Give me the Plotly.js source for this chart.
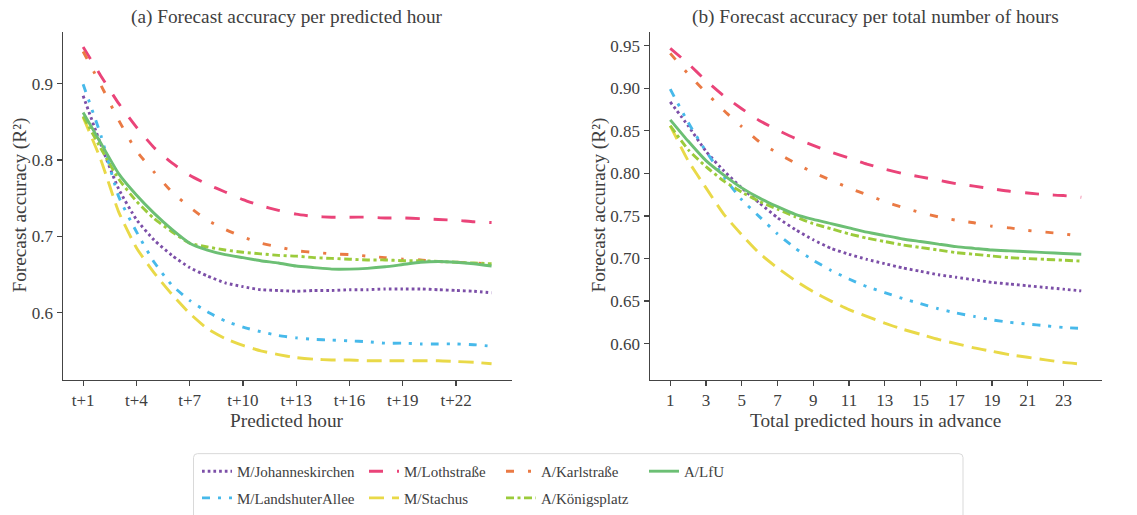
<!DOCTYPE html>
<html><head><meta charset="utf-8">
<script src="https://cdn.plot.ly/plotly-3.0.1.min.js"></script>
<style>html,body{margin:0;padding:0;background:#fff}#chart{width:1137px;height:515px}</style>
</head><body><div id="chart"></div>
<script>
// ---------- data ----------
const hours = [1,2,3,4,5,6,7,8,9,10,11,12,13,14,15,16,17,18,19,20,21,22,23,24];
const stationNames = ['M/Johanneskirchen','M/LandshuterAllee','M/Lothstraße','M/Stachus','A/Karlstraße','A/Königsplatz','A/LfU'];

// (a) accuracy per predicted hour
const phJohanneskirchen = [0.884,0.820,0.762,0.722,0.695,0.675,0.659,0.648,0.639,0.634,0.630,0.629,0.628,0.629,0.629,0.630,0.630,0.631,0.631,0.631,0.630,0.629,0.628,0.626];
const phLandshuterAllee = [0.899,0.832,0.752,0.706,0.666,0.636,0.616,0.601,0.589,0.581,0.575,0.570,0.567,0.565,0.564,0.563,0.562,0.560,0.560,0.559,0.559,0.559,0.558,0.556];
const phLothstrasse     = [0.948,0.910,0.874,0.843,0.816,0.796,0.780,0.768,0.758,0.748,0.740,0.734,0.729,0.726,0.725,0.725,0.725,0.724,0.724,0.723,0.722,0.721,0.719,0.718];
const phStachus         = [0.856,0.800,0.732,0.685,0.652,0.624,0.599,0.579,0.566,0.557,0.550,0.545,0.541,0.539,0.538,0.538,0.537,0.537,0.537,0.537,0.537,0.536,0.535,0.533];
const phKarlstrasse     = [0.942,0.898,0.852,0.812,0.784,0.758,0.738,0.721,0.709,0.699,0.691,0.686,0.681,0.679,0.677,0.676,0.674,0.672,0.670,0.669,0.667,0.666,0.665,0.664];
const phKoenigsplatz    = [0.857,0.815,0.775,0.746,0.723,0.706,0.691,0.686,0.682,0.679,0.677,0.675,0.674,0.672,0.671,0.670,0.669,0.669,0.668,0.668,0.667,0.666,0.665,0.664];
const phLfU             = [0.862,0.822,0.782,0.754,0.730,0.709,0.691,0.682,0.676,0.672,0.668,0.665,0.661,0.659,0.657,0.657,0.658,0.660,0.663,0.666,0.667,0.666,0.664,0.661];

// (b) accuracy per total number of hours
const thJohanneskirchen = [0.884,0.856,0.826,0.803,0.783,0.765,0.748,0.734,0.722,0.712,0.705,0.699,0.694,0.689,0.685,0.681,0.678,0.675,0.672,0.670,0.668,0.666,0.664,0.662];
const thLandshuterAllee = [0.899,0.860,0.826,0.796,0.769,0.749,0.729,0.712,0.698,0.686,0.676,0.667,0.660,0.653,0.647,0.641,0.636,0.632,0.628,0.625,0.623,0.621,0.619,0.618];
const thLothstrasse     = [0.947,0.929,0.909,0.891,0.876,0.862,0.851,0.841,0.833,0.825,0.818,0.811,0.805,0.800,0.796,0.792,0.788,0.785,0.782,0.779,0.777,0.775,0.774,0.772];
const thStachus         = [0.856,0.815,0.783,0.752,0.728,0.706,0.689,0.674,0.661,0.650,0.640,0.632,0.624,0.617,0.611,0.605,0.600,0.595,0.591,0.587,0.584,0.581,0.578,0.576];
const thKarlstrasse     = [0.941,0.917,0.895,0.874,0.855,0.837,0.824,0.812,0.801,0.792,0.783,0.775,0.767,0.760,0.754,0.749,0.745,0.742,0.738,0.736,0.733,0.731,0.729,0.726];
const thKoenigsplatz    = [0.856,0.828,0.808,0.791,0.778,0.767,0.758,0.749,0.741,0.735,0.729,0.724,0.720,0.716,0.713,0.710,0.707,0.705,0.703,0.701,0.700,0.699,0.698,0.697];
const thLfU             = [0.863,0.838,0.815,0.798,0.783,0.771,0.761,0.752,0.746,0.741,0.736,0.731,0.727,0.723,0.720,0.717,0.714,0.712,0.710,0.709,0.708,0.707,0.706,0.705];

// tick labels
const leftTickVals  = [1,4,7,10,13,16,19,22];
const leftTickText  = ['t+1','t+4','t+7','t+10','t+13','t+16','t+19','t+22'];
const rightTickVals = [1,3,5,7,9,11,13,15,17,19,21,23];
const rightTickText = ['1','3','5','7','9','11','13','15','17','19','21','23'];

// ---------- styles ----------
const perHourSeries = [phJohanneskirchen, phLandshuterAllee, phLothstrasse, phStachus, phKarlstrasse, phKoenigsplatz, phLfU];
const totalSeries   = [thJohanneskirchen, thLandshuterAllee, thLothstrasse, thStachus, thKarlstrasse, thKoenigsplatz, thLfU];
const colors = ['#7c4fa8','#47b9ea','#ea4479','#e9d948','#ea7a44','#9bcb3b','#6cbf74'];
const dashes = ['2.7px,3px','8px,8px,3px,8px,3px,8px','14px,14px','15px,8px','8px,14px,3px,14px','8px,3.5px,3px,3.5px','solid'];
// legend placement: [legend left px, row center px]
const legendPos = [[197,477],[197,504],[364,477],[364,504],[501,477],[501,504],[644,477]];

const W = 1137, H = 515;
const FONT = 'Liberation Serif';
const TXT = '#404040';
const LW = 2.9;

const traces = [];
stationNames.forEach((name, i) => {
  const lg = i === 0 ? 'legend' : 'legend' + (i + 1);
  traces.push({
    x: hours, y: perHourSeries[i], name: name, type: 'scatter', mode: 'lines',
    xaxis: 'x', yaxis: 'y', legend: lg,
    line: {color: colors[i], width: LW, dash: dashes[i], shape: 'spline', smoothing: 0.5}
  });
});
stationNames.forEach((name, i) => {
  traces.push({
    x: hours, y: totalSeries[i], name: name, type: 'scatter', mode: 'lines',
    xaxis: 'x2', yaxis: 'y2', showlegend: false,
    line: {color: colors[i], width: LW, dash: dashes[i], shape: 'spline', smoothing: 0.5}
  });
});

const axisCommon = {
  showgrid: false, zeroline: false, showline: true, linecolor: '#444', linewidth: 1.2,
  ticks: 'outside', ticklen: 5, tickwidth: 1.2, tickcolor: '#444',
  tickfont: {family: FONT, size: 17, color: TXT}
};
const yTop = 1 - 32 / H, yBot = 1 - 384.3 / H;
const TITLE_SIZE = 19.3;

function ann(text, xpx, ypx, angle) {
  return {text: text, xref: 'paper', yref: 'paper', x: xpx / W, y: 1 - ypx / H,
    showarrow: false, xanchor: 'center', yanchor: 'middle', textangle: angle || 0,
    font: {family: FONT, size: TITLE_SIZE, color: TXT}};
}

const layout = {
  width: W, height: H,
  margin: {l: 0, r: 0, t: 0, b: 0},
  paper_bgcolor: '#fff', plot_bgcolor: '#fff',
  font: {family: FONT, color: TXT},
  xaxis: Object.assign({}, axisCommon, {domain: [62.7 / W, 512 / W], range: [-0.15, 25.15],
    tickvals: leftTickVals, ticktext: leftTickText, anchor: 'y'}),
  yaxis: Object.assign({}, axisCommon, {domain: [yBot, yTop], range: [0.512, 0.968],
    tickvals: [0.6, 0.7, 0.8, 0.9], tickformat: '.1f', anchor: 'x'}),
  xaxis2: Object.assign({}, axisCommon, {domain: [649.7 / W, 1101.8 / W], range: [-0.15, 25.15],
    tickvals: rightTickVals, ticktext: rightTickText, anchor: 'y2'}),
  yaxis2: Object.assign({}, axisCommon, {domain: [yBot, yTop], range: [0.5575, 0.9666],
    tickvals: [0.60, 0.65, 0.70, 0.75, 0.80, 0.85, 0.90, 0.95], tickformat: '.2f', anchor: 'x2'}),
  annotations: [
    ann('(a) Forecast accuracy per predicted hour', 287, 17),
    ann('(b) Forecast accuracy per total number of hours', 875, 17),
    ann('Predicted hour', 287, 425),
    ann('Total predicted hours in advance', 875, 425),
    ann('Forecast accuracy (R²)', 20, 208, -90),
    ann('Forecast accuracy (R²)', 599, 208, -90)
  ],
  shapes: []
};

// legend frame (rounded top corners, runs off the bottom edge)
(function () {
  const x0 = 193.5 / W, x1 = 963 / W, yt = 1 - 459 / H, yb = 1 - 530 / H;
  const rx = 4 / W, ry = 4 / H;
  layout.shapes.push({
    type: 'path', xref: 'paper', yref: 'paper', layer: 'below',
    path: `M${x0},${yb} L${x0},${yt - ry} Q${x0},${yt} ${x0 + rx},${yt} L${x1 - rx},${yt} Q${x1},${yt} ${x1},${yt - ry} L${x1},${yb}`,
    line: {color: '#d9d9d9', width: 1}
  });
})();

legendPos.forEach((p, i) => {
  const key = i === 0 ? 'legend' : 'legend' + (i + 1);
  layout[key] = {
    x: p[0] / W, y: 1 - p[1] / H, xanchor: 'left', yanchor: 'middle',
    bgcolor: 'rgba(0,0,0,0)', borderwidth: 0,
    font: {family: FONT, size: 15, color: TXT}, orientation: 'v'
  };
});

Plotly.newPlot('chart', traces, layout, {displayModeBar: false, staticPlot: true});
</script>
</body></html>
